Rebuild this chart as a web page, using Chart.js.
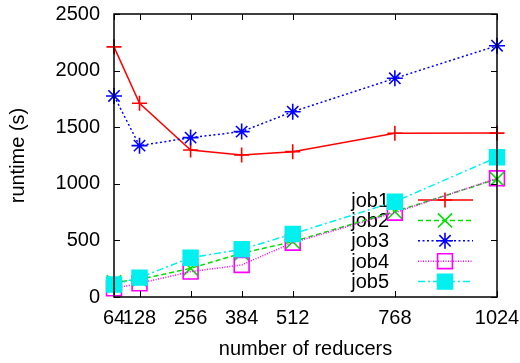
<!DOCTYPE html>
<html>
<head>
<meta charset="utf-8">
<script src="https://cdn.jsdelivr.net/npm/chart.js@4/dist/chart.umd.min.js"></script>
<style>
  html, body { margin: 0; padding: 0; background: #fff; }
  #wrap { width: 520px; height: 363px; }
</style>
</head>
<body>
<div id="wrap"><canvas id="chart" width="520" height="363"></canvas></div>
<script>
// reducers on the x axis
const reducers = [64, 128, 256, 384, 512, 768, 1024];
const yTicks = [0, 500, 1000, 1500, 2000, 2500];

// runtime (s) per job
const job1 = [2210, 1712, 1299, 1254, 1284, 1446, 1448];
const job2 = [130, 155, 253, 386, 489, 754, 1042];
const job3 = [1776, 1337, 1408, 1461, 1637, 1932, 2220];
const job4 = [77, 121, 224, 283, 480, 745, 1049];
const job5 = [110, 171, 347, 421, 557, 842, 1234];

const FONT = 'Liberation Sans, Arial, Helvetica, sans-serif';

function pts(vals) {
    return reducers.map((x, i) => ({ x: x, y: vals[i] }));
}

function series(label, vals, color, dash, style, radius, fill, order) {
    return {
        label: label,
        data: pts(vals),
        borderColor: color,
        backgroundColor: fill ? color : 'rgba(0,0,0,0)',
        borderWidth: 1.5,
        borderDash: dash,
        pointStyle: style,
        pointRadius: radius,
        pointHoverRadius: radius,
        pointBorderWidth: 1.6,
        pointBorderColor: color,
        pointBackgroundColor: fill ? color : 'rgba(0,0,0,0)',
        tension: 0,
        clip: false,
        order: order
    };
}

const datasets = [
    series('job1', job1, '#ff0000', [], 'cross', 7.5, false, 4),
    series('job2', job2, '#00e000', [5, 3], 'crossRot', 10, false, 3),
    series('job3', job3, '#0000ff', [2, 2.5], 'star', 8, false, 2),
    series('job4', job4, '#ff00ff', [1, 1.5], 'rect', 10.5, false, 1),
    series('job5', job5, '#00f0f0', [7, 3, 2, 3], 'rect', 10.5, true, 0)
];

// frame, inward ticks on all four sides (gnuplot look)
const framePlugin = {
    id: 'frame',
    afterDatasetsDraw(chart) {
        const ctx = chart.ctx;
        const a = chart.chartArea;
        const xs = chart.scales.x, ys = chart.scales.y;
        const len = 6;
        ctx.save();
        ctx.strokeStyle = '#000';
        ctx.lineWidth = 1;
        ctx.setLineDash([]);
        ctx.beginPath();
        reducers.forEach(v => {
            const px = Math.round(xs.getPixelForValue(v)) + 0.5;
            ctx.moveTo(px, a.bottom); ctx.lineTo(px, a.bottom - len);
            ctx.moveTo(px, a.top); ctx.lineTo(px, a.top + len);
        });
        yTicks.forEach(v => {
            const py = Math.round(ys.getPixelForValue(v)) + 0.5;
            ctx.moveTo(a.left, py); ctx.lineTo(a.left + len, py);
            ctx.moveTo(a.right, py); ctx.lineTo(a.right - len, py);
        });
        ctx.stroke();
        ctx.lineWidth = 1.5;
        ctx.strokeRect(a.left, a.top, a.right - a.left, a.bottom - a.top);
        ctx.restore();
    }
};

// key inside the plot: right-aligned label, then sample line + marker
const keyPlugin = {
    id: 'key',
    beforeDatasetsDraw(chart) {
        const ctx = chart.ctx;
        const textRight = 389, lineL = 418, lineR = 473, mid = 445;
        ctx.save();
        chart.data.datasets.forEach((ds, i) => {
            const y = 200 + i * 20.4;
            ctx.font = '20px ' + FONT;
            ctx.fillStyle = '#000';
            ctx.textAlign = 'right';
            ctx.textBaseline = 'middle';
            ctx.fillText(ds.label, textRight, y + 1);

            ctx.strokeStyle = ds.borderColor;
            ctx.lineWidth = ds.borderWidth;
            ctx.setLineDash(ds.borderDash);
            ctx.beginPath();
            ctx.moveTo(lineL, y); ctx.lineTo(lineR, y);
            ctx.stroke();

            ctx.setLineDash([]);
            ctx.lineWidth = ds.pointBorderWidth;
            ctx.fillStyle = ds.pointBackgroundColor;
            Chart.helpers.drawPoint(ctx, {
                pointStyle: ds.pointStyle,
                radius: ds.pointRadius,
                rotation: 0,
                borderWidth: ds.pointBorderWidth
            }, mid, y);
        });
        ctx.restore();
    }
};

const chart = new Chart(document.getElementById('chart'), {
    type: 'line',
    data: { datasets: datasets },
    plugins: [keyPlugin, framePlugin],
    options: {
        responsive: false,
        animation: false,
        events: [],
        layout: { padding: { top: 14, right: 23, left: 0, bottom: 0 } },
        plugins: {
            legend: { display: false },
            tooltip: { enabled: false }
        },
        scales: {
            x: {
                type: 'linear',
                min: 64,
                max: 1024,
                afterBuildTicks: (s) => { s.ticks = reducers.map(v => ({ value: v })); },
                afterFit: (s) => {
                    s.height = 66;
                    s.paddingLeft = 0;
                    s.paddingRight = 0;
                },
                grid: { display: false, drawTicks: false },
                border: { display: false },
                ticks: {
                    autoSkip: false,
                    maxRotation: 0,
                    padding: 9,
                    color: '#000',
                    font: { family: FONT, size: 20 },
                    callback: (v) => String(v)
                },
                title: {
                    display: true,
                    text: 'number of reducers',
                    color: '#000',
                    padding: { top: 0, bottom: 2 },
                    font: { family: FONT, size: 20 }
                }
            },
            y: {
                min: 0,
                max: 2500,
                afterBuildTicks: (s) => { s.ticks = yTicks.map(v => ({ value: v })); },
                afterFit: (s) => {
                    s.width = 114;
                    s.paddingTop = 0;
                    s.paddingBottom = 0;
                },
                grid: { display: false, drawTicks: false },
                border: { display: false },
                ticks: {
                    padding: 14,
                    color: '#000',
                    font: { family: FONT, size: 20 },
                    callback: (v) => String(v)
                },
                title: {
                    display: true,
                    text: 'runtime (s)',
                    color: '#000',
                    padding: { top: 6, bottom: 0 },
                    font: { family: FONT, size: 20 }
                }
            }
        }
    }
});
</script>
</body>
</html>
